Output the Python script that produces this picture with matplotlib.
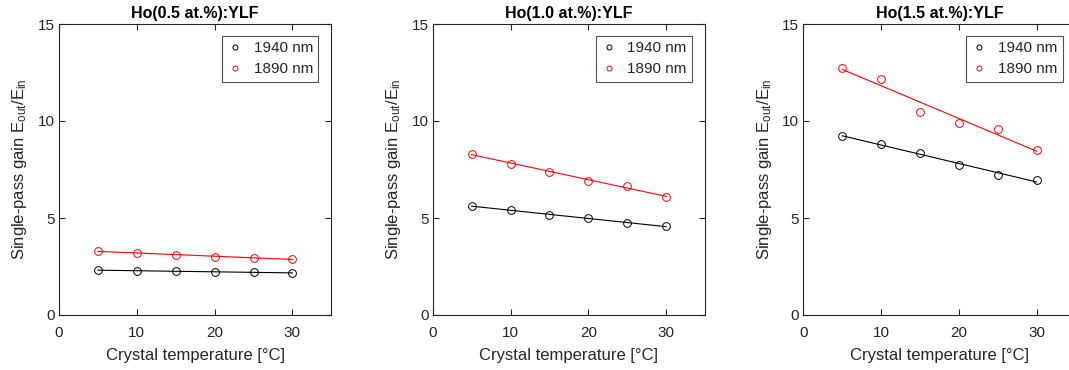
import numpy as np
import matplotlib
matplotlib.use("Agg")
import matplotlib.pyplot as plt

plt.rcParams['font.family'] = ['Liberation Sans', 'DejaVu Sans']
plt.rcParams['mathtext.fontset'] = 'custom'
plt.rcParams['mathtext.rm'] = 'Liberation Sans'
plt.rcParams['mathtext.it'] = 'Liberation Sans'

# Crystal temperature [°C]
temperature = [5, 10, 15, 20, 25, 30]

titles = ['Ho(0.5 at.%):YLF', 'Ho(1.0 at.%):YLF', 'Ho(1.5 at.%):YLF']

# Single-pass gain at 1940 nm for each doping level
gain_1940_05 = [2.32, 2.27, 2.25, 2.22, 2.22, 2.16]
gain_1940_10 = [5.64, 5.40, 5.14, 4.98, 4.74, 4.59]
gain_1940_15 = [9.23, 8.80, 8.33, 7.74, 7.24, 6.95]

# Single-pass gain at 1890 nm for each doping level
gain_1890_05 = [3.30, 3.18, 3.11, 3.01, 2.96, 2.87]
gain_1890_10 = [8.32, 7.80, 7.37, 6.92, 6.63, 6.10]
gain_1890_15 = [12.72, 12.17, 10.47, 9.88, 9.59, 8.48]

series_1940 = [gain_1940_05, gain_1940_10, gain_1940_15]
series_1890 = [gain_1890_05, gain_1890_10, gain_1890_15]

TXT = '#262626'
W, H = 1069, 370
fig = plt.figure(figsize=(W / 100, H / 100), dpi=100)

lefts = [59, 432.7, 803.3]
ax_w = 272.3
ax_bottom = 55
ax_h = 291

x = np.array(temperature, dtype=float)
for i in range(3):
    ax = fig.add_axes([lefts[i] / W, ax_bottom / H, ax_w / W, ax_h / H])
    for vals, col, lab in [(series_1940[i], 'black', '1940 nm'),
                           (series_1890[i], 'red', '1890 nm')]:
        y = np.array(vals)
        k, b = np.polyfit(x, y, 1)
        ax.plot(x, k * x + b, color=col, lw=0.8, zorder=2)
        ax.plot(x, y, linestyle='none', marker='o', markersize=5.6,
                markerfacecolor='none', markeredgecolor=col,
                markeredgewidth=0.7, label=lab, zorder=3)
    ax.set_xlim(0, 35)
    ax.set_ylim(0, 15)
    ax.set_xticks([0, 10, 20, 30])
    ax.set_yticks([0, 5, 10, 15])
    ax.tick_params(direction='in', top=True, right=True, length=4,
                   width=0.8, colors=TXT, labelsize=11)
    ax.tick_params(axis='x', pad=8)
    ax.tick_params(axis='y', pad=3)
    for s in ax.spines.values():
        s.set_color(TXT)
        s.set_linewidth(0.8)
    ax.set_title(titles[i], fontsize=11.5, fontweight='bold', color='black', pad=4)
    ax.set_xlabel('Crystal temperature [°C]', fontsize=12, color=TXT, labelpad=5.5)
    ax.set_ylabel(r'Single-pass gain E$_{\mathrm{out}}$/E$_{\mathrm{in}}$',
                  fontsize=12, color=TXT, labelpad=6)
    leg = ax.legend(loc='upper right', bbox_to_anchor=(0.952, 0.959),
                    borderaxespad=0, fontsize=11, frameon=True, fancybox=False,
                    handlelength=1.0, handletextpad=0.7, markerscale=0.65,
                    borderpad=0.35, labelspacing=0.45)
    leg.get_frame().set_edgecolor(TXT)
    leg.get_frame().set_linewidth(0.8)
    for t in leg.get_texts():
        t.set_color(TXT)

fig.savefig('out.png', dpi=100)
